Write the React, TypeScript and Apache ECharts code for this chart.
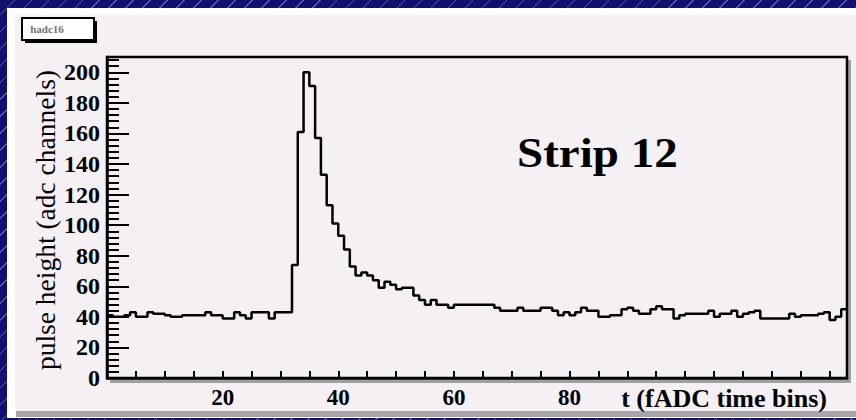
import React, { useEffect, useRef } from "react";
import * as echarts from "echarts";

// ---- data ----
const adcCounts: number[] = [
  41, 40, 40, 41, 43, 40, 40, 43, 42, 42, 41, 40, 40, 41, 41, 41,
  41, 43, 41, 41, 39, 39, 43, 41, 39, 43, 43, 43, 39, 43, 43, 43,
  74, 161, 200, 191, 157, 133, 113, 101, 93, 84, 73, 67, 69, 67, 64, 59,
  63, 61, 58, 59, 59, 54, 51, 48, 51, 48, 48, 46, 48, 48, 48, 48,
  48, 48, 48, 46, 44, 44, 44, 46, 44, 44, 44, 46, 46, 44, 41, 43,
  41, 43, 46, 44, 44, 40, 40, 41, 41, 45, 46, 44, 42, 42, 45, 47,
  45, 45, 39, 41, 42, 42, 42, 42, 44, 40, 42, 42, 44, 40, 42, 43,
  44, 39, 39, 39, 39, 39, 42, 40, 41, 41, 41, 42, 43, 38, 40, 45,
];
const xTickLabels = ["20", "40", "60", "80"];
const histName = "hadc16";
const chartLabel = "Strip 12";
const xAxisTitle = "t (fADC time bins)";
const yAxisTitle = "pulse height (adc channels)";

const SERIF = "'Liberation Serif', 'DejaVu Serif', serif";

export default function App() {
  const ref = useRef<HTMLDivElement>(null);
  useEffect(() => {
    if (!ref.current) return;
    const chart = echarts.init(ref.current, null, { renderer: "svg" });
    const stepData = adcCounts.map((v, i) => [i, v]);
    stepData.push([adcCounts.length, adcCounts[adcCounts.length - 1]]);
    chart.setOption({
      animation: false,
      backgroundColor: "transparent",
      grid: {
        left: 107,
        right: 9,
        top: 57,
        bottom: 42,
        show: true,
        backgroundColor: "#f4f0f4",
        borderColor: "#000",
        borderWidth: 2.5,
      },
      xAxis: {
        type: "value",
        min: 0,
        max: 128,
        interval: 5,
        axisLine: { show: true, onZero: false, lineStyle: { color: "#000", width: 2.5 } },
        axisTick: { show: true, inside: true, length: 7, lineStyle: { color: "#000", width: 2 } },
        axisLabel: {
          color: "#000",
          fontFamily: SERIF,
          fontWeight: "bold",
          fontSize: 23,
          margin: 8,
          formatter: (v: number) => (xTickLabels.includes(String(v)) ? String(v) : ""),
        },
        splitLine: { show: false },
      },
      yAxis: [
        {
          type: "value",
          min: 0,
          max: 210,
          interval: 20,
          position: "left",
          axisLine: { show: true, onZero: false, lineStyle: { color: "#000", width: 2.5 } },
          axisTick: { show: true, inside: true, length: 22, lineStyle: { color: "#000", width: 2 } },
          axisLabel: {
            color: "#000",
            fontFamily: SERIF,
            fontWeight: "bold",
            fontSize: 24,
            margin: 7,
            formatter: (v: number) => (v <= 200 ? String(v) : ""),
          },
          splitLine: { show: false },
        },
        {
          type: "value",
          min: 0,
          max: 210,
          interval: 4,
          position: "left",
          axisLine: { show: false },
          axisTick: { show: true, inside: true, length: 12, lineStyle: { color: "#000", width: 2 } },
          axisLabel: { show: false },
          splitLine: { show: false },
        },
      ],
      series: [
        {
          type: "line",
          step: "end",
          data: stepData,
          showSymbol: false,
          symbol: "none",
          lineStyle: { color: "#000", width: 2.5 },
          z: 3,
        },
      ],
      graphic: [
        // pad bevel / background
        { type: "rect", z: -100, silent: true, shape: { x: 7, y: 8, width: 870, height: 410 }, style: { fill: "#ffffff" } },
        { type: "rect", z: -99, silent: true, shape: { x: 16, y: 411, width: 860, height: 6 }, style: { fill: "#a8a4a8" } },
        { type: "rect", z: -98, silent: true, shape: { x: 15, y: 15, width: 860, height: 396 }, style: { fill: "#f4f0f4" } },
        // plot frame shadow
        { type: "rect", z: -90, silent: true, shape: { x: 848, y: 60, width: 3, height: 323 }, style: { fill: "#a0a0a0" } },
        { type: "rect", z: -90, silent: true, shape: { x: 110, y: 380, width: 741, height: 3 }, style: { fill: "#a0a0a0" } },
        // histogram name box
        { type: "rect", z: 10, silent: true, shape: { x: 25, y: 21, width: 72, height: 22 }, style: { fill: "#000" } },
        { type: "rect", z: 11, silent: true, shape: { x: 22, y: 18, width: 72, height: 22 }, style: { fill: "#ffffff", stroke: "#000", lineWidth: 2 } },
        {
          type: "text",
          z: 12,
          silent: true,
          x: 47,
          y: 29,
          style: { text: histName, fill: "#707070", font: `bold 11px ${SERIF}`, textAlign: "center", textVerticalAlign: "middle" },
        },
        // label inside the plot
        {
          type: "text",
          z: 12,
          silent: true,
          x: 517,
          y: 153,
          scaleX: 1.12,
          style: { text: chartLabel, fill: "#000", font: `bold 42px ${SERIF}`, textAlign: "left", textVerticalAlign: "middle" },
        },
        // axis titles
        {
          type: "text",
          z: 12,
          silent: true,
          x: 827,
          y: 398,
          style: { text: xAxisTitle, fill: "#000", font: `bold 26px ${SERIF}`, textAlign: "right", textVerticalAlign: "middle" },
        },
        {
          type: "text",
          z: 12,
          silent: true,
          x: 45,
          y: 70,
          rotation: Math.PI / 2,
          style: { text: yAxisTitle, fill: "#000", font: `27.5px ${SERIF}`, textAlign: "right", textVerticalAlign: "middle" },
        },
      ],
    });
    return () => chart.dispose();
  }, []);
  return (
    <div
      style={{
        position: "fixed",
        left: 0,
        top: 0,
        width: 856,
        height: 420,
        overflow: "hidden",
        background:
          "repeating-linear-gradient(135deg, #10106e 0px, #10106e 10px, #5a5aa8 10px, #5a5aa8 11px, #10106e 11px, #10106e 12px)",
      }}
    >
      <div ref={ref} style={{ width: 856, height: 420 }} />
    </div>
  );
}
